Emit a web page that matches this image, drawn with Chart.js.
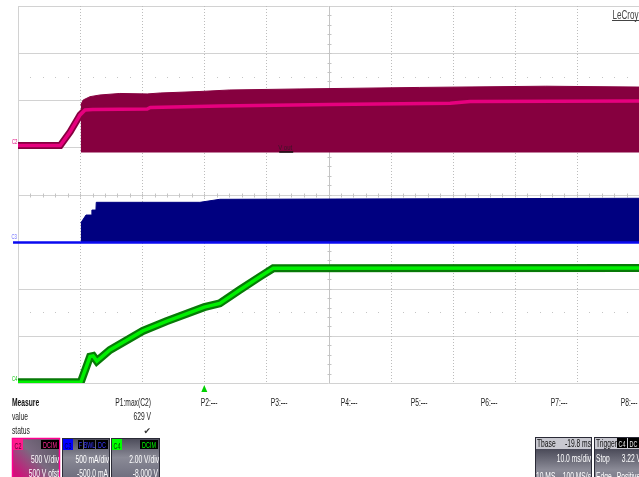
<!DOCTYPE html>
<html>
<head>
<meta charset="utf-8">
<script src="https://cdn.jsdelivr.net/npm/chart.js@4.4.1/dist/chart.umd.min.js"></script>
<style>
  html, body { margin: 0; padding: 0; background: #fff; }
  #wrap { width: 639px; height: 477px; position: relative; }
</style>
</head>
<body>
<div id="wrap"><canvas id="scope" width="639" height="477"></canvas></div>
<script>
// time axis in ms (10 ms/div, 10 divisions), trigger at t = 0
const TIME_MIN = -30, TIME_MAX = 70;

// C2 - output voltage (V): averaged trace and the max envelope of the ripple
const C2_TIME  = [-30, -23.2, -21.6, -20.0, -19.2, -18.0, -9.2, -8.7, 2.5, 20.2, 39.6, 42.8, 70];
const C2_VOLTS = [0, 0, 146, 324, 377, 382, 387, 403, 419, 435, 448, 467, 472];
const C2_MAX_V = 629;
const C2_ENV_TIME = [-19.9, -19.5, -18.4, -16.8, -13.6, -9.2, -7.1, -0.7, 4.1, 15.4, 34.7, 55, 70];
const C2_ENV_MAX  = [430, 483, 518, 536, 552, 547, 557, 573, 589, 600, 616, C2_MAX_V, 620];
const C2_ENV_MIN  = -74;

// C3 - current (mA), envelope above the zero line
const C3_ENV_TIME = [-19.9, -19.05, -18.15, -18.1, -17.45, -17.4, -0.7, 2.5, 70];
const C3_ENV_MAX  = [207, 292, 292, 345, 345, 427, 427, 459, 470];

// C4 - control voltage (V)
const C4_TIME  = [-30, -19.9, -18.4, -17.9, -17.3, -15.2, -9.9, -6.1, 0, 2.5, 5.7, 9.0, 11.1, 70];
const C4_VOLTS = [0.03, 0.03, 1.12, 1.15, 0.93, 1.40, 2.21, 2.62, 3.22, 3.38, 3.95, 4.52, 4.87, 4.88];

// measurement table
const MEASURE_ROWS = ['Measure', 'value', 'status'];
const P1_LABEL = 'P1:max(C2)';
const P_EMPTY = ['P2:---', 'P3:---', 'P4:---', 'P5:---', 'P6:---', 'P7:---', 'P8:---'];
const TRIG_LEVEL = 3.22;

const pts = (xs, ys) => xs.map((x, i) => ({ x, y: ys[i] }));

function drawText(ctx, s, x, y, o = {}) {
  ctx.save();
  ctx.font = `${o.bold ? 'bold ' : ''}${o.size || 10}px "Liberation Sans", Arial, sans-serif`;
  ctx.fillStyle = o.color || '#222';
  ctx.textAlign = o.align || 'left';
  ctx.textBaseline = 'alphabetic';
  ctx.translate(x, y);
  ctx.scale(o.sx || 0.67, 1);
  ctx.fillText(s, 0, 0);
  ctx.restore();
}

function hline(ctx, x1, x2, y) { ctx.beginPath(); ctx.moveTo(x1, y); ctx.lineTo(x2, y); ctx.stroke(); }
function vline(ctx, x, y1, y2) { ctx.beginPath(); ctx.moveTo(x, y1); ctx.lineTo(x, y2); ctx.stroke(); }

const scopeGrid = {
  id: 'scopeGrid',
  beforeDatasetsDraw(chart) {
    const { ctx, chartArea: a } = chart;
    const dx = (a.right - a.left) / 10, dy = (a.bottom - a.top) / 8;
    ctx.save();
    ctx.lineWidth = 1;
    ctx.strokeStyle = '#d2d2d2';
    for (let k = 0; k <= 8; k++) hline(ctx, a.left, a.right, Math.round(a.top + k * dy) + 0.5);
    vline(ctx, a.left + 0.5, a.top, a.bottom);
    ctx.strokeStyle = '#bcbcbc';
    ctx.setLineDash([1, 2]);
    for (let k = 1; k < 10; k++) {
      if (k === 5) continue;
      vline(ctx, Math.round(a.left + k * dx) + 0.5, a.top, a.bottom);
    }
    ctx.setLineDash([]);
    const cx = Math.round(a.left + 5 * dx) + 0.5, cy = Math.round(a.top + 4 * dy) + 0.5;
    ctx.strokeStyle = '#c4c4c4';
    vline(ctx, cx, a.top, a.bottom);
    // minor ticks on the centre lines
    for (let i = 1; i < 50; i++) {
      const x = Math.round(a.left + i * dx / 5) + 0.5;
      vline(ctx, x, cy - 2, cy + 2);
    }
    for (let i = 1; i < 40; i++) {
      const y = Math.round(a.top + i * dy / 5) + 0.5;
      hline(ctx, cx - 2, cx + 2, y);
    }
    // dotted marks at half divisions
    ctx.fillStyle = '#c4c4c4';
    [1.5, 6.5].forEach(k => {
      const y = Math.round(a.top + k * dy);
      for (let i = 1; i < 50; i++) {
        if (i % 5 === 0) continue;
        ctx.fillRect(Math.round(a.left + i * dx / 5), y, 1, 1);
      }
    });
    ctx.restore();
  },
  afterDraw(chart) {
    const { ctx, chartArea: a, scales } = chart;
    ctx.save();

    // brand
    drawText(ctx, 'LeCroy', 612.5, 19, { size: 12, color: '#444' });
    ctx.strokeStyle = '#444'; ctx.lineWidth = 1;
    hline(ctx, 612, 639, 20.5);

    // channel markers at each zero level
    const z2 = scales.yC2.getPixelForValue(0);
    const z3 = scales.yC3.getPixelForValue(0);
    const z4 = scales.yC4.getPixelForValue(0);
    drawText(ctx, 'C2', 12, z2 - 1.5, { size: 7, sx: 0.6, color: '#e0007a' });
    drawText(ctx, 'C3', 11.5, z3 - 4, { size: 7, sx: 0.6, color: '#6a6aff' });
    drawText(ctx, 'C4', 12, z4 - 2, { size: 7, sx: 0.6, color: '#00c000' });

    // trace label on C2
    const vx = scales.x.getPixelForValue(11.9);
    drawText(ctx, 'V out', vx, 150, { size: 8, sx: 0.75, color: '#3a1426' });
    ctx.strokeStyle = '#111'; ctx.lineWidth = 1.5;
    hline(ctx, vx + 1, vx + 15, 152);

    // trigger position marker
    const tx = scales.x.getPixelForValue(0);
    ctx.fillStyle = '#00d000';
    ctx.beginPath();
    ctx.moveTo(tx, a.bottom + 2); ctx.lineTo(tx - 3, a.bottom + 9); ctx.lineTo(tx + 3, a.bottom + 9);
    ctx.closePath(); ctx.fill();

    // measurement table
    drawText(ctx, MEASURE_ROWS[0], 12, 405.5, { bold: true, color: '#111' });
    drawText(ctx, MEASURE_ROWS[1], 12, 419.5);
    drawText(ctx, MEASURE_ROWS[2], 12, 433.5);
    drawText(ctx, P1_LABEL, 151, 405.5, { align: 'right' });
    drawText(ctx, `${C2_MAX_V} V`, 151, 419.5, { align: 'right' });
    ctx.save();
    ctx.font = '9px "DejaVu Sans", sans-serif';
    ctx.fillStyle = '#333';
    ctx.textAlign = 'right';
    ctx.fillText('\u2714', 151, 434);
    ctx.restore();
    P_EMPTY.forEach((s, i) => drawText(ctx, s, 200.7 + i * 70, 405.5));

    drawPanels(ctx);
    ctx.restore();
  }
};

function grayGrad(ctx, y0, y1) {
  const g = ctx.createLinearGradient(0, y0, 0, y1);
  g.addColorStop(0, '#4a4a58');
  g.addColorStop(0.5, '#8a8a96');
  g.addColorStop(1, '#707080');
  return g;
}

function tag(ctx, x, y, w, h, bg, s, color) {
  ctx.fillStyle = bg;
  ctx.fillRect(x, y, w, h);
  drawText(ctx, s, x + w / 2, y + h - 1.5, { size: 9, sx: 0.6, color, align: 'center' });
}

function drawPanels(ctx) {
  // C2 descriptor
  let g = ctx.createLinearGradient(60, 438, 20, 477);
  g.addColorStop(0, '#56525f');
  g.addColorStop(0.55, '#7a6a80');
  g.addColorStop(1, '#d0107a');
  ctx.fillStyle = g;
  ctx.fillRect(12, 438, 48, 40);
  ctx.strokeStyle = '#ff0090'; ctx.lineWidth = 1.5;
  ctx.strokeRect(12.5, 438.5, 47, 40);
  tag(ctx, 13, 439, 10, 11, '#ff1a8c', 'C2', '#5a0030');
  tag(ctx, 41, 440, 18, 9, '#000', 'DCIM', '#ff2a96');
  drawText(ctx, '500 V/div', 59, 463, { align: 'right', color: '#fff' });
  drawText(ctx, '500 V ofst', 59, 477, { align: 'right', color: '#fff' });

  // C3 descriptor
  ctx.fillStyle = grayGrad(ctx, 438, 477);
  ctx.fillRect(62, 438, 48, 40);
  ctx.strokeStyle = '#2a2a36'; ctx.lineWidth = 1;
  ctx.strokeRect(62.5, 438.5, 47, 40);
  tag(ctx, 63, 439, 10, 11, '#0000ff', 'C3', '#000050');
  tag(ctx, 78, 440, 5, 9, '#000', 'F', '#3a3aff');
  tag(ctx, 84, 440, 11, 9, '#000', 'BWL', '#3a3aff');
  tag(ctx, 96, 440, 12, 9, '#000', 'DC', '#3a3aff');
  drawText(ctx, '500 mA/div', 109, 463, { align: 'right', color: '#fff' });
  drawText(ctx, '-500.0 mA', 108, 477, { align: 'right', color: '#fff' });

  // C4 descriptor
  ctx.fillStyle = grayGrad(ctx, 438, 477);
  ctx.fillRect(111, 438, 49, 40);
  ctx.strokeStyle = '#2a2a36';
  ctx.strokeRect(111.5, 438.5, 48, 40);
  tag(ctx, 112, 439, 10, 11, '#00ff00', 'C4', '#004000');
  tag(ctx, 140, 440, 18, 9, '#000', 'DCIM', '#00ff00');
  drawText(ctx, '2.00 V/div', 159, 463, { align: 'right', color: '#fff' });
  drawText(ctx, '-8.000 V', 158, 477, { align: 'right', color: '#fff' });

  // timebase
  ctx.fillStyle = grayGrad(ctx, 449, 490);
  ctx.fillRect(535, 437, 57, 41);
  ctx.fillStyle = '#c8c8d0';
  ctx.fillRect(535, 437, 57, 12);
  ctx.strokeStyle = '#2a2a36';
  ctx.strokeRect(535.5, 437.5, 56, 41);
  drawText(ctx, 'Tbase', 537, 446.7, { color: '#111' });
  drawText(ctx, '-19.8 ms', 591, 446.7, { align: 'right', color: '#111' });
  drawText(ctx, '10.0 ms/div', 591, 461.7, { align: 'right', color: '#fff' });
  drawText(ctx, '10 MS', 536, 480, { color: '#fff' });
  drawText(ctx, '100 MS/s', 591, 480, { align: 'right', color: '#fff' });

  // trigger
  ctx.fillStyle = grayGrad(ctx, 449, 490);
  ctx.fillRect(594, 437, 45, 41);
  ctx.fillStyle = '#c8c8d0';
  ctx.fillRect(594, 437, 45, 12);
  ctx.strokeStyle = '#2a2a36';
  ctx.strokeRect(594.5, 437.5, 46, 41);
  drawText(ctx, 'Trigger', 596, 446.7, { color: '#111' });
  tag(ctx, 617, 438, 10, 10, '#000', 'C4', '#e8e8e8');
  tag(ctx, 628, 438, 11, 10, '#000', 'DC', '#e8e8e8');
  drawText(ctx, 'Stop', 596, 461.7, { color: '#fff' });
  drawText(ctx, `${TRIG_LEVEL.toFixed(2)} V`, 621.7, 461.7, { color: '#fff' });
  drawText(ctx, 'Edge', 596, 480, { color: '#fff' });
  drawText(ctx, 'Positive', 616.7, 480, { color: '#fff' });
}

const line = (data, yAxisID, color, width, order, extra = {}) => Object.assign({
  data, yAxisID, borderColor: color, borderWidth: width, order,
  pointRadius: 0, tension: 0, fill: false,
}, extra);

new Chart(document.getElementById('scope'), {
  type: 'line',
  data: {
    datasets: [
      line(pts(C2_ENV_TIME, C2_ENV_MAX), 'yC2', '#86003f', 1, 9,
        { backgroundColor: '#86003f', fill: { value: C2_ENV_MIN } }),
      line(pts(C2_TIME, C2_VOLTS), 'yC2', '#86003f', 7, 8),
      line(pts(C2_TIME, C2_VOLTS), 'yC2', '#e6007e', 3.5, 7),
      line(pts(C3_ENV_TIME, C3_ENV_MAX), 'yC3', '#000080', 1, 6,
        { backgroundColor: '#000080', fill: 'origin' }),
      line(pts([-30.8, TIME_MAX], [0, 0]), 'yC3', '#0a0af0', 2.5, 5, { clip: false }),
      line(pts(C4_TIME, C4_VOLTS), 'yC4', '#077a07', 8, 4),
      line(pts(C4_TIME, C4_VOLTS), 'yC4', '#00f000', 3.5, 3),
    ]
  },
  options: {
    responsive: false,
    animation: false,
    events: [],
    layout: { padding: { left: 18, top: 6, right: 0, bottom: 94 } },
    scales: {
      x: { type: 'linear', min: TIME_MIN, max: TIME_MAX, display: false },
      yC2: { type: 'linear', min: -2520, max: 1480, display: false },
      yC3: { type: 'linear', min: -1490, max: 2510, display: false },
      yC4: { type: 'linear', min: 0, max: 16, display: false },
    },
    plugins: { legend: { display: false }, tooltip: { enabled: false } },
  },
  plugins: [scopeGrid],
});
</script>
</body>
</html>
